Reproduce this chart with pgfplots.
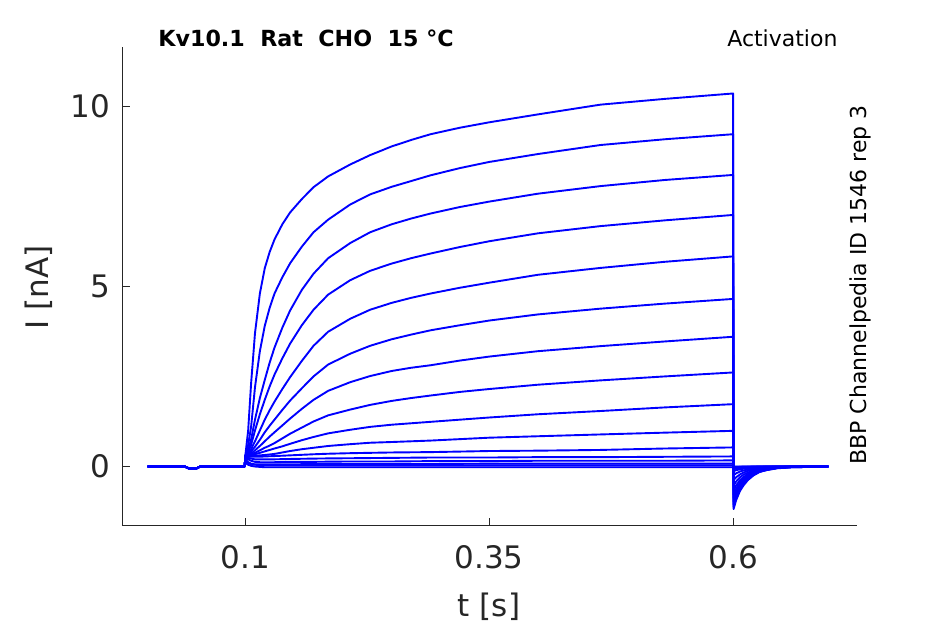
\documentclass[border=0pt]{standalone}
\usepackage{fontspec}
\setmainfont{DejaVu Sans}
\usepackage{pgfplots}
\pgfplotsset{compat=1.18}
\usepackage{pgfplotstable}
\definecolor{axgray}{HTML}{262626}
\definecolor{trace}{RGB}{0,0,255}

\pgfplotstableread{
t A B C D E F G H I J K L M N O P
0 0 0 0 0 0 0 0 0 0 0 0 0 0 0 0 0
0.038 0 0 0 0 0 0 0 0 0 0 0 0 0 0 0 0
0.042 -0.05 -0.05 -0.05 -0.05 -0.05 -0.05 -0.05 -0.05 -0.05 -0.05 -0.05 -0.05 -0.05 -0.05 -0.05 -0.05
0.05 -0.05 -0.05 -0.05 -0.05 -0.05 -0.05 -0.05 -0.05 -0.05 -0.05 -0.05 -0.05 -0.05 -0.05 -0.05 -0.05
0.054 0 0 0 0 0 0 0 0 0 0 0 0 0 0 0 0
0.0995 0 0 0 0 0 0 0 0 0 0 0 0 0 0 0 0
0.1 0.28 0.28 0.28 0.28 0.28 0.28 0.28 0.28 0.28 0.28 0.28 0.28 0.25 0.2 0.15 0.1
0.103 1.0 0.6 0.45 0.4 0.36 0.33 0.31 0.3 0.29 0.28 0.27 0.24 0.2 0.12 0.1 0.05
0.106 2.3 1.1 0.75 0.6 0.48 0.42 0.36 0.33 0.31 0.29 0.27 0.22 0.16 0.08 0.07 0.02
0.11 3.7 2.2 1.3 1.0 0.7 0.55 0.45 0.38 0.34 0.3 0.27 0.2 0.13 0.06 0.05 0
0.115 4.8 3.2 1.9 1.45 1.0 0.74 0.57 0.45 0.38 0.31 0.27 0.2 0.12 0.06 0.04 -0.01
0.12 5.5 3.9 2.4 1.85 1.3 0.95 0.7 0.52 0.42 0.32 0.28 0.2 0.12 0.06 0.03 -0.02
0.125 5.95 4.4 2.88 2.22 1.56 1.13 0.83 0.58 0.46 0.335 0.285 0.2 0.12 0.06 0.03 -0.02
0.13 6.3 4.8 3.3 2.55 1.8 1.3 0.95 0.65 0.5 0.35 0.29 0.2 0.12 0.06 0.03 -0.02
0.138 6.72 5.25 3.85 3.0 2.15 1.57 1.14 0.78 0.56 0.39 0.3 0.205 0.125 0.06 0.03 -0.02
0.146 7.05 5.64 4.33 3.41 2.48 1.83 1.33 0.91 0.63 0.43 0.31 0.21 0.13 0.06 0.03 -0.02
0.158 7.42 6.1 4.9 3.92 2.93 2.17 1.6 1.08 0.73 0.48 0.325 0.215 0.13 0.065 0.03 -0.02
0.17 7.75 6.5 5.35 4.35 3.35 2.5 1.85 1.25 0.82 0.52 0.34 0.22 0.13 0.07 0.03 -0.02
0.185 8.05 6.85 5.78 4.77 3.74 2.83 2.1 1.42 0.92 0.57 0.355 0.225 0.135 0.07 0.03 -0.02
0.2076 8.38 7.27 6.2 5.17 4.1 3.13 2.34 1.58 1.02 0.62 0.37 0.23 0.14 0.07 0.03 -0.02
0.228 8.64 7.55 6.5 5.43 4.35 3.35 2.51 1.71 1.1 0.66 0.38 0.235 0.14 0.07 0.03 -0.02
0.25 8.88 7.76 6.72 5.63 4.54 3.53 2.65 1.82 1.16 0.68 0.39 0.24 0.14 0.07 0.03 -0.02
0.27 9.06 7.92 6.88 5.78 4.68 3.66 2.74 1.9 1.2 0.7 0.395 0.245 0.145 0.07 0.03 -0.02
0.29 9.22 8.08 7.02 5.91 4.8 3.78 2.81 1.97 1.24 0.72 0.4 0.25 0.15 0.07 0.03 -0.02
0.32 9.4 8.28 7.2 6.09 4.96 3.92 2.94 2.07 1.3 0.76 0.415 0.25 0.15 0.075 0.03 -0.02
0.35 9.55 8.45 7.35 6.25 5.1 4.05 3.05 2.15 1.36 0.8 0.43 0.25 0.15 0.08 0.03 -0.02
0.4 9.77 8.67 7.57 6.47 5.32 4.22 3.2 2.27 1.45 0.84 0.44 0.26 0.16 0.08 0.03 -0.02
0.464 10.04 8.92 7.78 6.67 5.51 4.38 3.34 2.39 1.54 0.89 0.46 0.26 0.16 0.08 0.03 -0.02
0.53 10.2 9.08 7.95 6.83 5.68 4.52 3.47 2.5 1.64 0.94 0.5 0.27 0.16 0.08 0.03 -0.02
0.6 10.35 9.22 8.09 6.98 5.83 4.65 3.6 2.61 1.73 0.99 0.53 0.28 0.17 0.08 0.03 -0.02
0.6005 -1.18 -1.12 -1.05 -0.97 -0.88 -0.78 -0.66 -0.52 -0.38 -0.24 -0.13 -0.07 -0.04 -0.02 -0.01 0
0.603 -0.94 -0.90 -0.84 -0.78 -0.70 -0.62 -0.53 -0.42 -0.30 -0.19 -0.10 -0.06 -0.03 -0.02 -0.01 0
0.607 -0.68 -0.65 -0.61 -0.56 -0.51 -0.45 -0.38 -0.30 -0.22 -0.14 -0.08 -0.04 -0.02 -0.01 -0.01 0
0.6105 -0.53 -0.50 -0.47 -0.44 -0.40 -0.35 -0.30 -0.23 -0.17 -0.11 -0.06 -0.03 -0.02 -0.01 0 0
0.615 -0.38 -0.36 -0.34 -0.31 -0.28 -0.25 -0.21 -0.17 -0.12 -0.08 -0.04 -0.02 -0.01 -0.01 0 0
0.6207 -0.25 -0.24 -0.22 -0.20 -0.18 -0.16 -0.14 -0.11 -0.08 -0.05 -0.03 -0.01 -0.01 0 0 0
0.627 -0.15 -0.15 -0.14 -0.13 -0.11 -0.10 -0.09 -0.07 -0.05 -0.03 -0.02 -0.01 0 0 0 0
0.634 -0.10 -0.10 -0.09 -0.08 -0.07 -0.07 -0.06 -0.04 -0.03 -0.02 -0.01 0 0 0 0 0
0.645 -0.05 -0.04 -0.04 -0.04 -0.04 -0.03 -0.03 -0.02 -0.02 -0.01 0 0 0 0 0 0
0.66 -0.02 -0.02 -0.02 -0.01 -0.01 -0.01 -0.01 -0.01 0 0 0 0 0 0 0 0
0.68 -0.01 -0.01 -0.01 0 0 0 0 0 0 0 0 0 0 0 0 0
0.6977 0 0 0 0 0 0 0 0 0 0 0 0 0 0 0 0
}\traces

\begin{document}
\begin{tikzpicture}
\useasboundingbox (0,0) rectangle (472.5pt,312pt);
\begin{axis}[
  at={(61pt,49pt)}, anchor=south west,
  scale only axis, width=367.5pt, height=239.5pt,
  xmin=-0.0263, xmax=0.727, ymin=-1.65, ymax=11.64,
  axis lines*=left,
  axis line style={axgray, line width=0.5pt, -},
  tick align=inside, major tick length=4pt,
  tick style={axgray, line width=0.5pt},
  xtick={0.1,0.35,0.6}, xticklabels={0.1,0.35,0.6},
  ytick={0,5,10}, yticklabels={0,5,10},
  ticklabel style={font=\fontsize{15.5}{18}\selectfont, text=axgray},
  /pgf/number format/assume math mode=true,
  xticklabel style={yshift=-6pt},
  yticklabel style={xshift=-2.6pt},
]
\pgfplotsinvokeforeach{A,B,C,D,E,F,G,H,I,J,K,L,M,N,O,P}{
  \addplot[trace, line width=0.95pt, line join=round] table[x=t,y=#1]{\traces};
}
\end{axis}
\node[font=\fontsize{15.5}{18}\selectfont, text=axgray] at (244.5pt,8.75pt) {t [s]};
\node[font=\fontsize{15.5}{18}\selectfont, text=axgray, rotate=90] at (19.5pt,168.25pt) {I [nA]};
\node[font=\bfseries\fontsize{11.1}{13}\selectfont, anchor=base] at (153pt,288.5pt) {Kv10.1\ \ Rat\ \ CHO\ \ 15 °C};
\node[font=\fontsize{11}{13}\selectfont, anchor=base] at (391.2pt,288.65pt) {Activation};
\node[font=\fontsize{11}{13}\selectfont, rotate=90, anchor=base] at (433.3pt,169.5pt) {BBP Channelpedia ID 1546 rep 3};
\end{tikzpicture}
\end{document}
